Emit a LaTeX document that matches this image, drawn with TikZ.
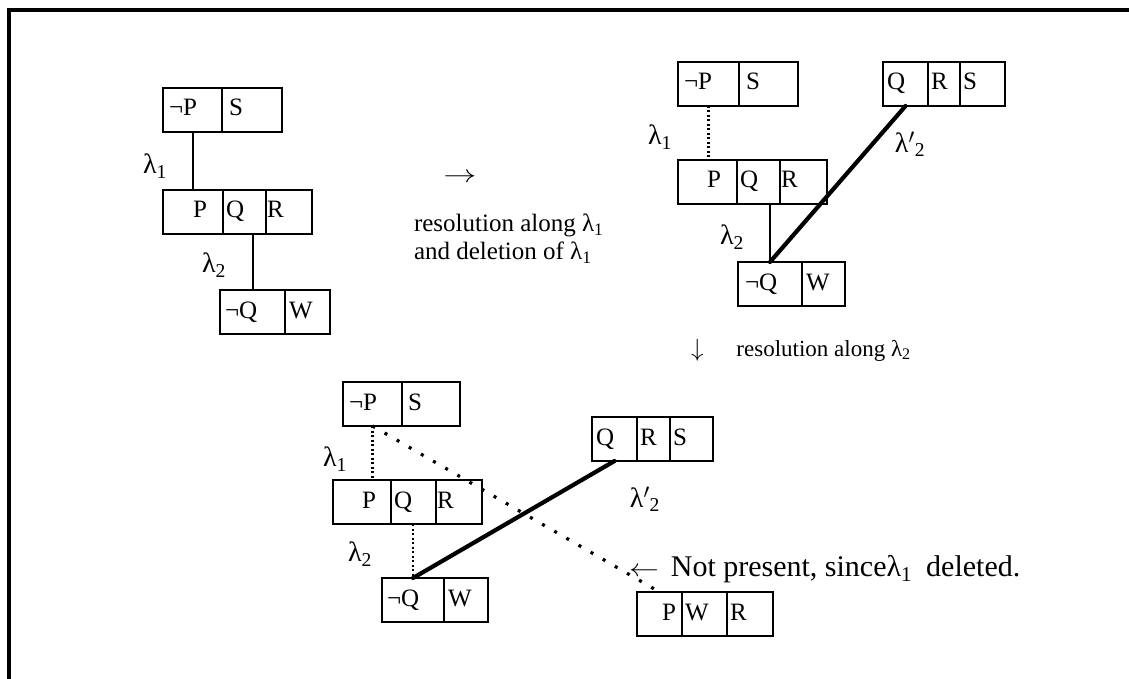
\documentclass[tikz,border=0pt]{standalone}
\usepackage{fontspec}
\setmainfont{Liberation Serif}
\usetikzlibrary{positioning}
\tikzset{
  every picture/.style={line width=2pt},
  cell/.style={draw, line width=2.6pt, outer sep=0pt, inner xsep=0pt, inner ysep=0pt, align=left,
    text height=28pt, text depth=16pt, font=\fontsize{25}{27}\selectfont},
  link/.style={line width=2pt},
  dots/.style={line width=2.6pt, dash pattern=on 2pt off 2.5pt},
  sparse/.style={line width=3.2pt, dash pattern=on 3pt off 11pt},
  res/.style={line width=4.2pt, line cap=round},
  lab/.style={font=\fontsize{28}{30}\selectfont, inner sep=0pt},
  note/.style={font=\fontsize{25}{28}\selectfont, inner sep=0pt, align=left},
}
\newcommand{\lsub}[1]{λ\textsubscript{#1}}

\begin{document}
\begin{tikzpicture}[x=1pt, y=-1pt]
  \useasboundingbox (0,0) rectangle (1129,679);
  % a clause as a row of cells, #4 = text/width/indent
  \newcommand{\clausebox}[4]{%
    \foreach \t/\w/\p [count=\i, remember=\i as \j (initially 0)] in {#4} {
      \ifnum\i=1
        \node[cell, text width=\w pt, anchor=north west] (#1-\i) at (#2,#3) {\hspace*{\p pt}\t};
      \else
        \node[cell, text width=\w pt, anchor=north west] (#1-\i) at (#1-\j.north east) {\hspace*{\p pt}\t};
      \fi
    }
  }
  \draw[line width=4pt] (9,679) -- (9,10) -- (1129,10);

  % before
  \clausebox{a1}{163}{88}{¬P/59/6, S/60/7}
  \clausebox{a2}{163}{190}{P/60/30, Q/43/3, R/46/1}
  \clausebox{a3}{220}{290}{¬Q/65/5, W/45/4}
  \draw[link] (a1-1.south) -- (a1-1.south |- a2-1.north);
  \draw[link] (a3-1.north |- a2-2.south) -- (a3-1.north);
  \node[lab] (la1) at (155,166) {\lsub{1}};
  \node[lab] (la2) at (214,265) {\lsub{2}};

  \node[note] (go1) at (460,178) {\scalebox{1.33}[1]{$\rightarrow$}};
  \node[note, anchor=north west] (txt1) at (413,213) {resolution along \lsub{1}\\and deletion of \lsub{1}};

  % after resolution along lambda 1
  \clausebox{b1}{678}{62}{¬P/61/6, S/59/7}
  \clausebox{b2}{883}{62}{Q/45/4, R/32/3, S/45/3}
  \clausebox{b3}{678}{160}{P/59/29, Q/43/3, R/47/1}
  \clausebox{b4}{738}{262}{¬Q/64/7, W/43/4}
  \draw[dots] (b1-1.south) -- (b1-1.south |- b3-1.north);
  \draw[link] (b4-1.north |- b3-2.south) -- (b4-1.north);
  \draw[res] (b4-1.north) -- (b2-1.south);
  \node[lab] (lb1) at (660,137) {\lsub{1}};
  \node[lab] (lb2) at (732,237) {\lsub{2}};
  \node[lab] (lb3) at (910,144) {λ$'$\textsubscript{2}};

  \node[note, anchor=base west, font=\fontsize{23}{26}\selectfont] (txt2) at (690,356) {$\downarrow$\hspace{33pt}resolution along \lsub{2}};

  % after resolution along lambda 2
  \clausebox{c1}{343}{382}{¬P/59/6, S/58/6}
  \clausebox{c2}{333}{480}{P/58/29, Q/45/3, R/46/1}
  \clausebox{c3}{382}{578}{¬Q/62/5, W/44/4}
  \clausebox{c4}{592}{417}{Q/45/4, R/33/3, S/43/3}
  \clausebox{c5}{637}{592}{P/45/25, W/45/3, R/46/3}
  \draw[dots] (c1-1.south) -- (c1-1.south |- c2-1.north);
  \draw[dots] (c3-1.north |- c2-2.south) -- (c3-1.north);
  \draw[res] (c3-1.north) -- (c4-1.south);
  \draw[sparse] (c1-1.south) -- (c5-1.north);
  \node[lab] (lc1) at (335,459) {\lsub{1}};
  \node[lab] (lc2) at (360,554) {\lsub{2}};
  \node[lab] (lc3) at (645,499) {λ$'$\textsubscript{2}};

  \node[note, anchor=base west, font=\fontsize{30}{32}\selectfont] (txt3) at (628,576) {\scalebox{1.2}[1]{$\leftarrow$}\hspace{12pt}Not present, since\lsub{1}\hspace{14pt}deleted.};
\end{tikzpicture}
\end{document}
